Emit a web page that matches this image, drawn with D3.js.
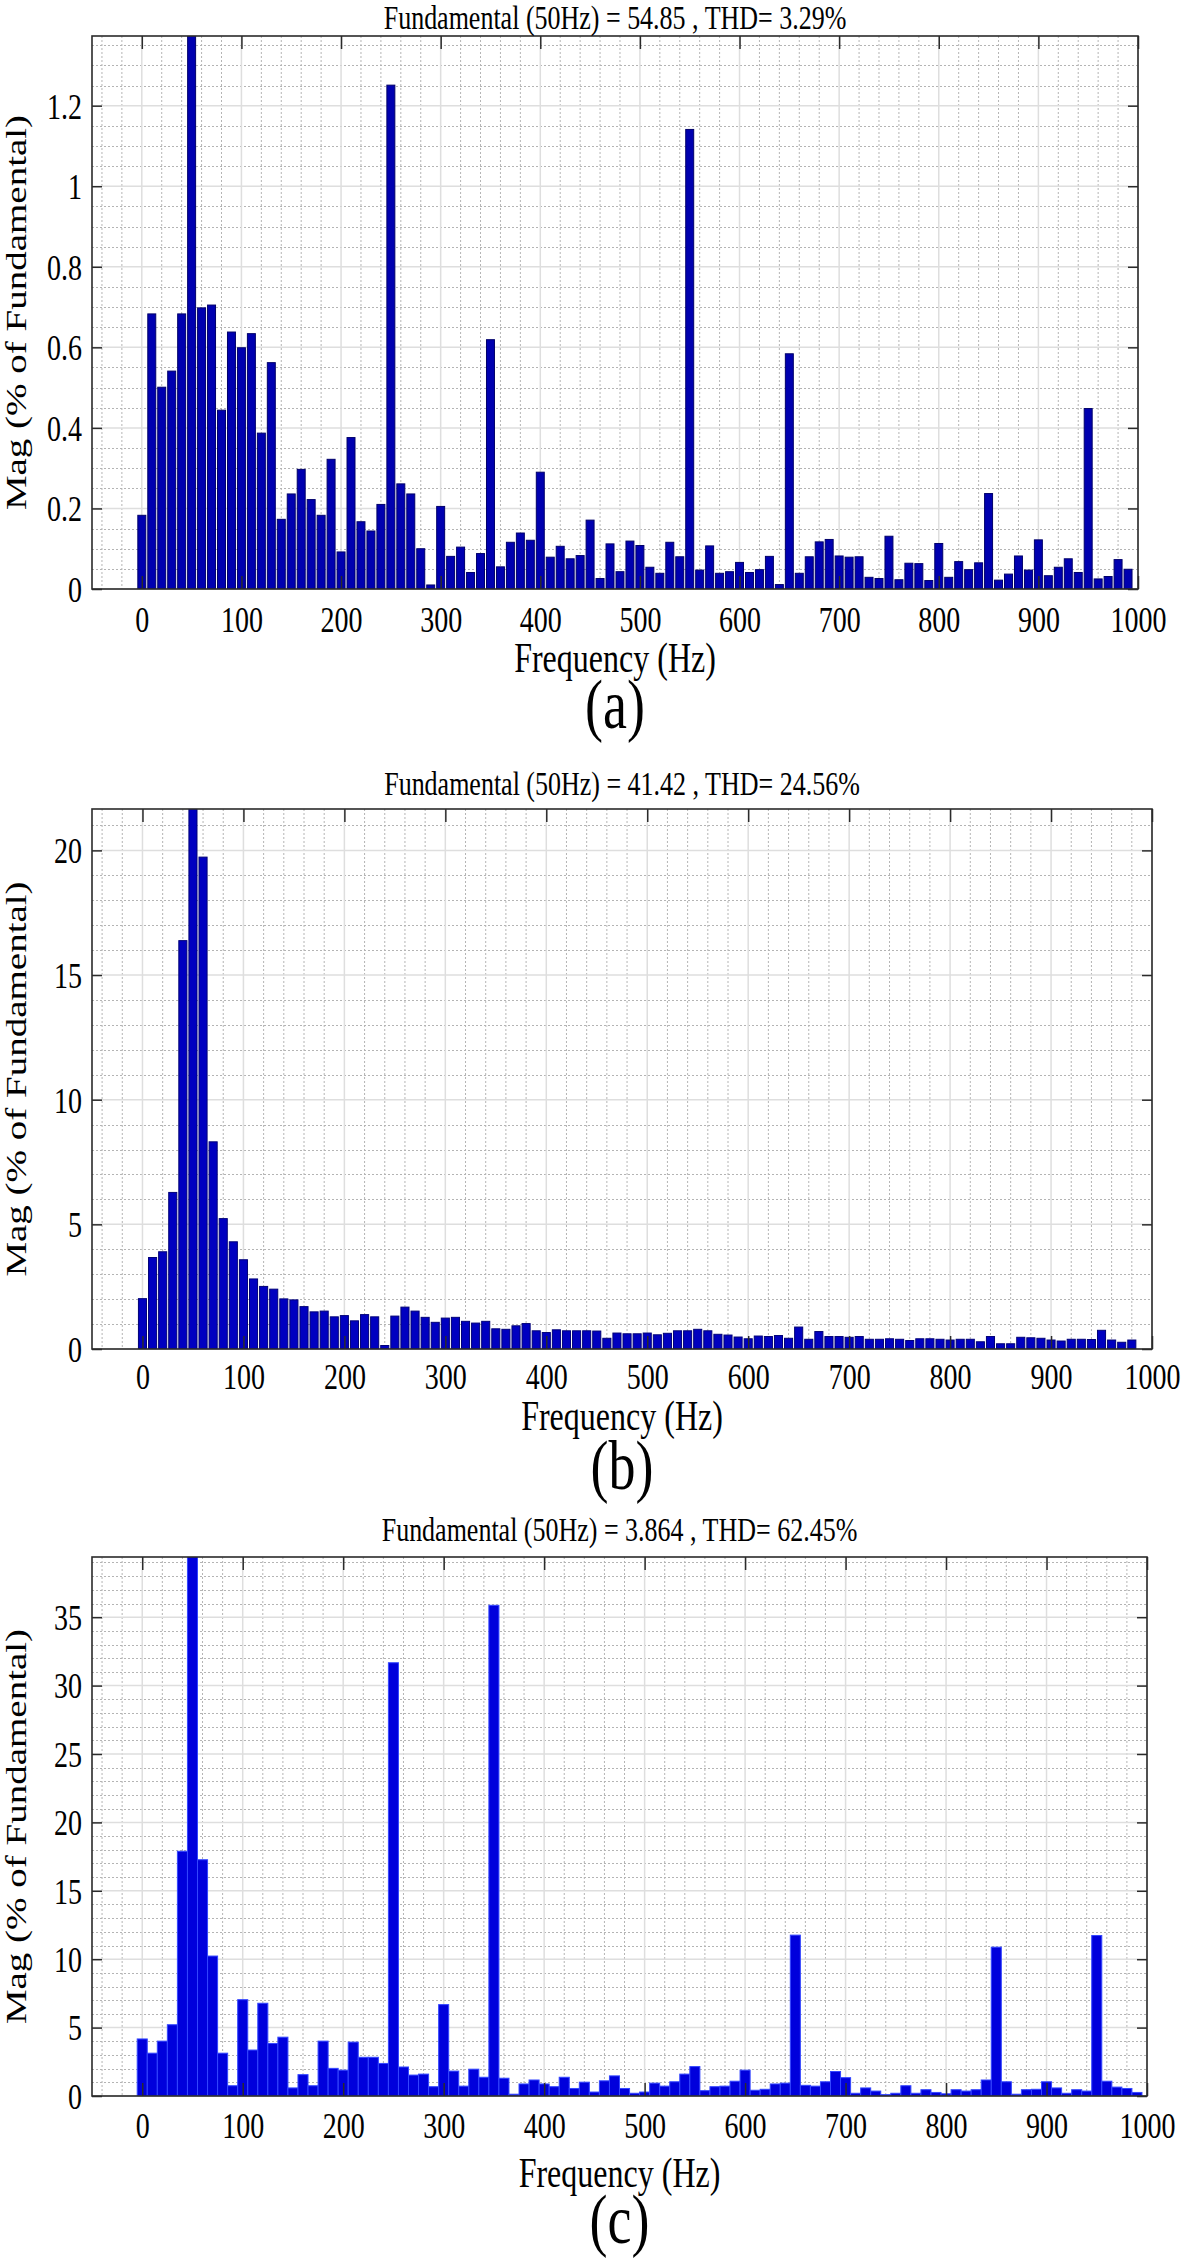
<!DOCTYPE html>
<html>
<head>
<meta charset="utf-8">
<script src="https://cdn.jsdelivr.net/npm/d3@7"></script>
<style>
  html, body { margin: 0; padding: 0; background: #fff; }
  svg { display: block; }
  text { font-family: "Liberation Serif", "Times New Roman", serif; fill: #000; }
</style>
</head>
<body>
<svg id="chart" width="1181" height="2259"></svg>
<script>
// ---------------- DATA ----------------
const freqs = d3.range(0, 1000, 10); // harmonic frequency bins (Hz)

const titleA = "Fundamental (50Hz) = 54.85 , THD= 3.29%";
const titleB = "Fundamental (50Hz) = 41.42 , THD= 24.56%";
const titleC = "Fundamental (50Hz) = 3.864 , THD= 62.45%";
const panelLabels = ["(a)", "(b)", "(c)"];
const xLabel = "Frequency (Hz)";
const yLabel = "Mag (% of Fundamental)";

const xTicks = [0, 100, 200, 300, 400, 500, 600, 700, 800, 900, 1000];
const xTickLabels = ["0", "100", "200", "300", "400", "500", "600", "700", "800", "900", "1000"];

const yTicksA = [0, 0.2, 0.4, 0.6, 0.8, 1, 1.2];
const yTickLabelsA = ["0", "0.2", "0.4", "0.6", "0.8", "1", "1.2"];
const yTicksB = [0, 5, 10, 15, 20];
const yTickLabelsB = ["0", "5", "10", "15", "20"];
const yTicksC = [0, 5, 10, 15, 20, 25, 30, 35];
const yTickLabelsC = ["0", "5", "10", "15", "20", "25", "30", "35"];

const magA = [0.183, 0.683, 0.501, 0.541, 0.683, 100, 0.698, 0.705, 0.444, 0.638,
  0.599, 0.634, 0.387, 0.562, 0.173, 0.236, 0.297, 0.222, 0.183, 0.322,
  0.092, 0.376, 0.167, 0.144, 0.210, 1.251, 0.261, 0.236, 0.100, 0.010,
  0.205, 0.081, 0.104, 0.041, 0.088, 0.619, 0.055, 0.116, 0.139, 0.121,
  0.290, 0.079, 0.106, 0.075, 0.083, 0.171, 0.026, 0.112, 0.043, 0.119,
  0.108, 0.054, 0.039, 0.116, 0.080, 1.141, 0.047, 0.107, 0.039, 0.043,
  0.066, 0.041, 0.048, 0.081, 0.011, 0.584, 0.039, 0.080, 0.117, 0.123,
  0.082, 0.079, 0.080, 0.029, 0.026, 0.131, 0.023, 0.064, 0.063, 0.021,
  0.113, 0.029, 0.068, 0.048, 0.065, 0.237, 0.022, 0.037, 0.082, 0.047,
  0.122, 0.033, 0.054, 0.075, 0.041, 0.448, 0.025, 0.031, 0.073, 0.049];

const magB = [2.02, 3.67, 3.90, 6.28, 16.38, 100, 19.73, 8.31, 5.23, 4.30,
  3.58, 2.81, 2.51, 2.40, 2.01, 1.97, 1.70, 1.49, 1.52, 1.29,
  1.34, 1.13, 1.38, 1.29, 0.14, 1.32, 1.68, 1.52, 1.27, 1.07,
  1.24, 1.27, 1.11, 1.04, 1.11, 0.81, 0.79, 0.93, 1.02, 0.73,
  0.66, 0.77, 0.73, 0.73, 0.73, 0.72, 0.43, 0.64, 0.61, 0.61,
  0.64, 0.57, 0.63, 0.73, 0.73, 0.79, 0.73, 0.59, 0.56, 0.48,
  0.41, 0.52, 0.50, 0.54, 0.43, 0.88, 0.39, 0.70, 0.50, 0.50,
  0.47, 0.50, 0.39, 0.39, 0.41, 0.39, 0.34, 0.41, 0.41, 0.39,
  0.36, 0.39, 0.39, 0.29, 0.50, 0.21, 0.21, 0.47, 0.45, 0.43,
  0.36, 0.32, 0.39, 0.39, 0.38, 0.75, 0.36, 0.27, 0.36, 0];

const magC = [4.17, 3.13, 4.01, 5.21, 17.89, 100, 17.27, 10.23, 3.13, 0.75,
  7.04, 3.36, 6.78, 3.84, 4.30, 0.59, 1.56, 0.75, 4.01, 2.02,
  1.89, 3.94, 2.83, 2.83, 2.38, 31.67, 2.12, 1.53, 1.60, 0.68,
  6.68, 1.82, 0.72, 1.96, 1.37, 35.87, 1.30, 0.13, 0.88, 1.17,
  0.88, 0.68, 1.37, 0.55, 1.01, 0.29, 1.11, 1.47, 0.55, 0.20,
  0.29, 0.94, 0.72, 1.04, 1.60, 2.15, 0.39, 0.68, 0.72, 1.08,
  1.89, 0.42, 0.49, 0.88, 0.94, 11.76, 0.78, 0.72, 1.04, 1.79,
  1.34, 0.20, 0.59, 0.36, 0.10, 0.20, 0.75, 0.20, 0.46, 0.26,
  0.16, 0.46, 0.36, 0.46, 1.17, 10.88, 1.04, 0.13, 0.46, 0.49,
  1.04, 0.59, 0.20, 0.46, 0.36, 11.73, 1.08, 0.65, 0.55, 0.26];

// ---------------- LAYOUT / STYLE ----------------
const K = 1.3; // vertical stretch of the original figure's text
const panels = [
  { key: "a", title: titleA, values: magA, yMax: 1.373, yTicks: yTicksA, yTickLabels: yTickLabelsA, yMinor: 0.05,
    left: 92, right: 1138, top: 36, bottom: 589, barFrac: 0.8, fill: "#0000b0", stroke: "#00006a",
    titleY: 29, tickY: 632, xLabY: 672, panY: 728 },
  { key: "b", title: titleB, values: magB, yMax: 21.66, yTicks: yTicksB, yTickLabels: yTickLabelsB, yMinor: 1,
    left: 92, right: 1152, top: 809, bottom: 1349, barFrac: 0.8, fill: "#0000c0", stroke: "#000078",
    titleY: 795, tickY: 1389, xLabY: 1430, panY: 1489 },
  { key: "c", title: titleC, values: magC, yMax: 39.4, yTicks: yTicksC, yTickLabels: yTickLabelsC, yMinor: 1,
    left: 92, right: 1147, top: 1557, bottom: 2096, barFrac: 1.0, fill: "#0000dc", stroke: "#3346ff",
    titleY: 1541, tickY: 2138, xLabY: 2187, panY: 2243 }
];

const svg = d3.select("#chart");

function stext(g, x, y, str, size, anchor) {
  return g.append("text")
    .attr("transform", `translate(${x},${y}) scale(1,${K})`)
    .attr("text-anchor", anchor)
    .style("font-size", size + "px")
    .text(str);
}

panels.forEach((p, pi) => {
  const g = svg.append("g");
  const W = p.right - p.left, H = p.bottom - p.top;
  const x = d3.scaleLinear().domain([-50, 1000]).range([p.left, p.right]);
  const y = d3.scaleLinear().domain([0, p.yMax]).range([p.bottom, p.top]);

  const clipId = "clip" + p.key;
  svg.append("clipPath").attr("id", clipId)
    .append("rect").attr("x", p.left).attr("y", p.top).attr("width", W).attr("height", H);

  // minor grid
  const xMinor = d3.range(-40, 1000, 20).filter(v => v % 100 !== 0);
  const yMinor = d3.range(0, p.yMax, p.yMinor).filter(v => !p.yTicks.some(t => Math.abs(t - v) < 1e-6));
  const grid = g.append("g");
  grid.selectAll(".vx").data(xMinor).join("line")
    .attr("x1", d => x(d)).attr("x2", d => x(d)).attr("y1", p.top).attr("y2", p.bottom)
    .attr("stroke", "#b4b4b4").attr("stroke-width", 1).attr("stroke-dasharray", "2,2");
  grid.selectAll(".hy").data(yMinor).join("line")
    .attr("x1", p.left).attr("x2", p.right).attr("y1", d => Math.round(y(d)) + 0.5).attr("y2", d => Math.round(y(d)) + 0.5)
    .attr("stroke", "#b4b4b4").attr("stroke-width", 1).attr("stroke-dasharray", "2,2");
  // major grid
  grid.selectAll(".mx").data(xTicks).join("line")
    .attr("x1", d => x(d)).attr("x2", d => x(d)).attr("y1", p.top).attr("y2", p.bottom)
    .attr("stroke", "#dedede").attr("stroke-width", 1.5);
  grid.selectAll(".my").data(p.yTicks).join("line")
    .attr("x1", p.left).attr("x2", p.right).attr("y1", d => y(d)).attr("y2", d => y(d))
    .attr("stroke", "#dedede").attr("stroke-width", 1.5);

  // bars
  const bw = (x(10) - x(0)) * p.barFrac;
  g.append("g").attr("clip-path", `url(#${clipId})`)
    .selectAll("rect").data(freqs.map((f, i) => ({ f, v: p.values[i] }))).join("rect")
    .attr("x", d => x(d.f) - bw / 2)
    .attr("width", bw)
    .attr("y", d => y(Math.min(d.v, p.yMax * 1.05)))
    .attr("height", d => y(0) - y(Math.min(d.v, p.yMax * 1.05)))
    .attr("fill", p.fill)
    .attr("stroke", p.stroke)
    .attr("stroke-width", 1);

  // axes with inward ticks
  const axCol = "#2b2b2b";
  const styleAxis = sel => {
    sel.select(".domain").remove();
    sel.selectAll(".tick line").attr("stroke", axCol).attr("stroke-width", 1.5);
    sel.attr("font-family", null).attr("font-size", null);
  };
  const bottomAx = g.append("g").attr("transform", `translate(0,${p.bottom})`)
    .call(d3.axisBottom(x).tickValues(xTicks).tickSize(-13).tickFormat((d, i) => xTickLabels[i]));
  styleAxis(bottomAx);
  bottomAx.selectAll(".tick text")
    .attr("y", null).attr("dy", null)
    .attr("transform", `translate(0,${p.tickY - p.bottom}) scale(1,${K})`)
    .style("font-size", "28px").attr("fill", "#000");

  const topAx = g.append("g").attr("transform", `translate(0,${p.top})`)
    .call(d3.axisTop(x).tickValues(xTicks).tickSize(-13).tickFormat(""));
  styleAxis(topAx);

  const leftAx = g.append("g").attr("transform", `translate(${p.left},0)`)
    .call(d3.axisLeft(y).tickValues(p.yTicks).tickSize(-10).tickFormat((d, i) => p.yTickLabels[i]));
  styleAxis(leftAx);
  leftAx.selectAll(".tick text")
    .attr("x", null).attr("dy", null)
    .attr("transform", `translate(-10,${0.34 * 28 * K}) scale(1,${K})`)
    .style("font-size", "28px").attr("fill", "#000");

  const rightAx = g.append("g").attr("transform", `translate(${p.right},0)`)
    .call(d3.axisRight(y).tickValues(p.yTicks).tickSize(-10).tickFormat(""));
  styleAxis(rightAx);

  // box
  g.append("rect").attr("x", p.left).attr("y", p.top).attr("width", W).attr("height", H)
    .attr("fill", "none").attr("stroke", axCol).attr("stroke-width", 1.6);

  // texts
  const cx = (p.left + p.right) / 2;
  stext(g, cx, p.titleY, p.title, 26, "middle");
  stext(g, cx, p.xLabY, xLabel, 32, "middle");
  stext(g, cx, p.panY, panelLabels[pi], 54, "middle");
  g.append("text")
    .attr("transform", `translate(26,${(p.top + p.bottom) / 2}) scale(1,${K}) rotate(-90)`)
    .attr("text-anchor", "middle")
    .style("font-size", "30px")
    .text(yLabel);
});
</script>
</body>
</html>
